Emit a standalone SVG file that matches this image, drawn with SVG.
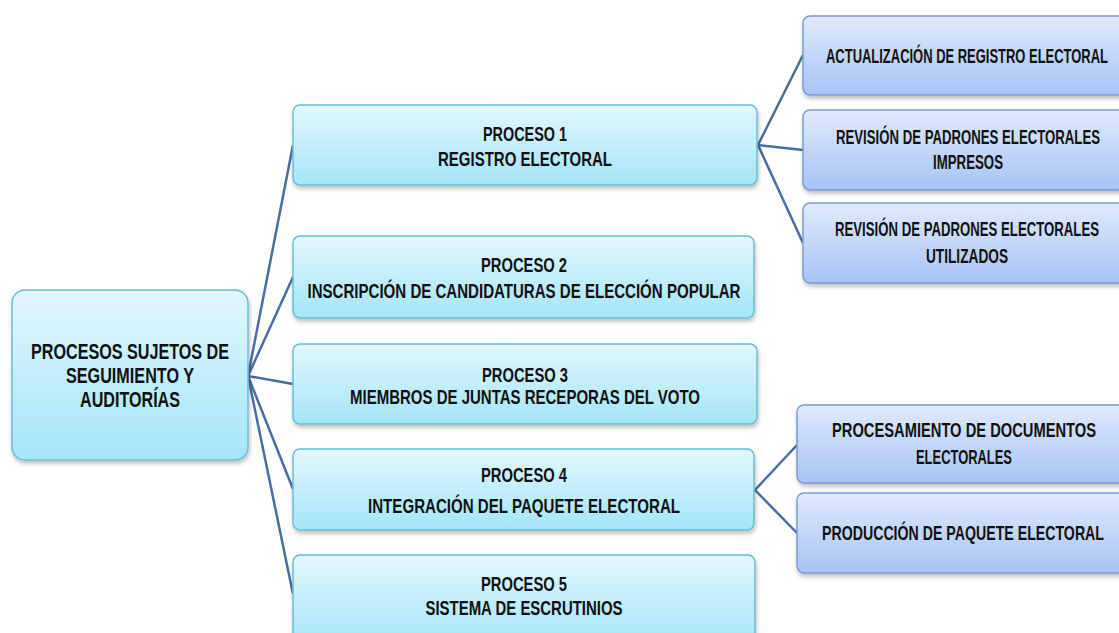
<svg xmlns="http://www.w3.org/2000/svg" width="1119" height="633" viewBox="0 0 1119 633">
<style>
.t{font-family:"Liberation Sans Narrow","Liberation Sans",Arial,sans-serif;font-weight:bold;fill:#111;text-anchor:middle;font-size:20px}
.r{font-family:"Liberation Sans Narrow","Liberation Sans",Arial,sans-serif;font-weight:bold;fill:#111;text-anchor:middle;font-size:22px}
.c{font-family:"Liberation Sans Narrow","Liberation Sans",Arial,sans-serif;font-weight:bold;fill:#111;text-anchor:middle;font-size:19.5px}
.cy{fill:url(#gc);stroke:#6bbdd6;stroke-width:1.5}
.bl{fill:url(#gb);stroke:#7c9bd4;stroke-width:1.5}
.ln{stroke:#4a6ea4;stroke-width:2.5;fill:none}
</style>
<defs>
<linearGradient id="gc" x1="0" y1="0" x2="0" y2="1"><stop offset="0" stop-color="#e2f7fd"/><stop offset="1" stop-color="#a4e5f8"/></linearGradient>
<linearGradient id="gb" x1="0" y1="0" x2="0" y2="1"><stop offset="0" stop-color="#e0eafc"/><stop offset="1" stop-color="#a7c3f5"/></linearGradient>
<filter id="sh" x="-10%" y="-10%" width="120%" height="130%"><feDropShadow dx="1" dy="3" stdDeviation="2" flood-color="#000" flood-opacity="0.25"/></filter>
</defs>
<g id="connectors">
<line class="ln" x1="248" y1="376" x2="293" y2="145"/>
<line class="ln" x1="248" y1="376" x2="293" y2="277"/>
<line class="ln" x1="248" y1="376" x2="293" y2="384"/>
<line class="ln" x1="248" y1="376" x2="293" y2="489"/>
<line class="ln" x1="248" y1="376" x2="293" y2="594"/>
<line class="ln" x1="758" y1="145" x2="803" y2="55"/>
<line class="ln" x1="758" y1="145" x2="803" y2="150"/>
<line class="ln" x1="758" y1="145" x2="803" y2="243"/>
<line class="ln" x1="755" y1="490" x2="797" y2="445"/>
<line class="ln" x1="755" y1="490" x2="797" y2="533"/>
</g>
<g id="root">
<rect class="cy" x="12" y="290" width="236" height="170" rx="13" filter="url(#sh)"/>
<text class="r" x="130" y="359" textLength="198" lengthAdjust="spacingAndGlyphs">PROCESOS SUJETOS DE</text>
<text class="r" x="130" y="383" textLength="128" lengthAdjust="spacingAndGlyphs">SEGUIMIENTO Y</text>
<text class="r" x="130" y="407" textLength="100" lengthAdjust="spacingAndGlyphs">AUDITORÍAS</text>
</g>
<g id="p1">
<rect class="cy" x="293" y="105" width="464" height="80" rx="7" filter="url(#sh)"/>
<text class="t" x="525" y="141" textLength="84" lengthAdjust="spacingAndGlyphs">PROCESO 1</text>
<text class="t" x="525" y="166" textLength="174" lengthAdjust="spacingAndGlyphs">REGISTRO ELECTORAL</text>
</g>
<g id="p2">
<rect class="cy" x="293" y="236" width="461" height="82" rx="7" filter="url(#sh)"/>
<text class="t" x="524" y="272" textLength="86" lengthAdjust="spacingAndGlyphs">PROCESO 2</text>
<text class="t" x="524" y="298" textLength="433" lengthAdjust="spacingAndGlyphs">INSCRIPCIÓN  DE CANDIDATURAS DE ELECCIÓN POPULAR</text>
</g>
<g id="p3">
<rect class="cy" x="293" y="344" width="464" height="80" rx="7" filter="url(#sh)"/>
<text class="t" x="525" y="382" textLength="86" lengthAdjust="spacingAndGlyphs">PROCESO 3</text>
<text class="t" x="525" y="404" textLength="350" lengthAdjust="spacingAndGlyphs">MIEMBROS DE JUNTAS RECEPORAS DEL VOTO</text>
</g>
<g id="p4">
<rect class="cy" x="293" y="449" width="461" height="81" rx="7" filter="url(#sh)"/>
<text class="t" x="524" y="482" textLength="86" lengthAdjust="spacingAndGlyphs">PROCESO 4</text>
<text class="t" x="524" y="513" textLength="312" lengthAdjust="spacingAndGlyphs">INTEGRACIÓN DEL PAQUETE ELECTORAL</text>
</g>
<g id="p5">
<rect class="cy" x="293" y="555" width="462" height="90" rx="7" filter="url(#sh)"/>
<text class="t" x="524" y="591" textLength="86" lengthAdjust="spacingAndGlyphs">PROCESO 5</text>
<text class="t" x="524" y="615" textLength="197" lengthAdjust="spacingAndGlyphs">SISTEMA DE ESCRUTINIOS</text>
</g>
<g id="s1">
<rect class="bl" x="803" y="16" width="330" height="79" rx="7" filter="url(#sh)"/>
<text class="c" x="967" y="63" textLength="282" lengthAdjust="spacingAndGlyphs">ACTUALIZACIÓN DE REGISTRO ELECTORAL</text>
</g>
<g id="s2">
<rect class="bl" x="803" y="110" width="330" height="80" rx="7" filter="url(#sh)"/>
<text class="c" x="968" y="144" textLength="264" lengthAdjust="spacingAndGlyphs">REVISIÓN DE PADRONES  ELECTORALES</text>
<text class="c" x="968" y="169" textLength="70" lengthAdjust="spacingAndGlyphs">IMPRESOS</text>
</g>
<g id="s3">
<rect class="bl" x="803" y="203" width="330" height="80" rx="7" filter="url(#sh)"/>
<text class="c" x="967" y="236" textLength="264" lengthAdjust="spacingAndGlyphs">REVISIÓN DE PADRONES  ELECTORALES</text>
<text class="c" x="967" y="263" textLength="82" lengthAdjust="spacingAndGlyphs">UTILIZADOS</text>
</g>
<g id="s4">
<rect class="bl" x="797" y="405" width="336" height="78" rx="7" filter="url(#sh)"/>
<text class="c" x="964" y="437" textLength="264" lengthAdjust="spacingAndGlyphs">PROCESAMIENTO DE DOCUMENTOS</text>
<text class="c" x="964" y="464" textLength="96" lengthAdjust="spacingAndGlyphs">ELECTORALES</text>
</g>
<g id="s5">
<rect class="bl" x="797" y="493" width="336" height="80" rx="7" filter="url(#sh)"/>
<text class="c" x="963" y="540" textLength="282" lengthAdjust="spacingAndGlyphs">PRODUCCIÓN DE PAQUETE ELECTORAL</text>
</g>
</svg>
